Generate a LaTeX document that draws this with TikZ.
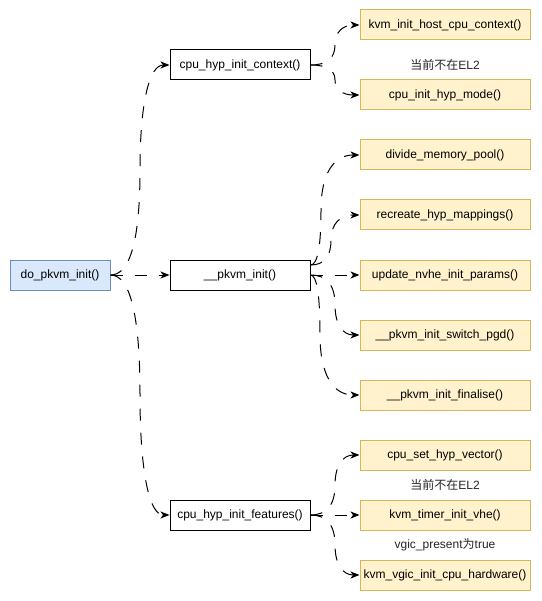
\documentclass[tikz,border=0pt]{standalone}
\usepackage{fontspec}
\setmainfont{Liberation Sans}
\newfontfamily\cjk{Noto Sans CJK SC}
\usetikzlibrary{arrows.meta,calc}
\definecolor{bluefill}{HTML}{DAE8FC}
\definecolor{blueline}{HTML}{6C8EBF}
\definecolor{yelfill}{HTML}{FFF2CC}
\definecolor{yelline}{HTML}{D6B656}
\tikzset{
  box/.style={draw=black, line width=1pt, minimum height=30pt, inner sep=0pt,
              font=\fontsize{12}{14}\selectfont, text=black},
  rootbox/.style={box, fill=bluefill, draw=blueline, minimum width=100pt},
  midbox/.style={box, fill=white, minimum width=140pt},
  leafbox/.style={box, fill=yelfill, draw=yelline, minimum width=170pt},
  note/.style={font=\fontsize{12}{14}\selectfont, inner sep=0pt, text=black!85},
  edge/.style={line width=1pt, dash pattern=on 12pt off 12pt,
               -{Stealth[length=9pt,width=7pt,inset=2.5pt]}},
}
\newcommand\qcurve[3]{%
  \draw[edge] let \p1=(#1), \p2=(#2), \n1={#3}, \n2={(\y1+\y2)/2} in
    (\p1) .. controls ({\x1+2/3*(\n1-\x1)},\y1) and (\n1,{\n2+2/3*(\y1-\n2)}) .. (\n1,\n2)
    .. controls (\n1,{\n2+2/3*(\y2-\n2)}) and ({\x2+2/3*(\n1-\x2)},\y2) .. (\p2);}
\begin{document}
\begin{tikzpicture}[x=1pt,y=1pt]
  \fill[white] (0,0) rectangle (541,-601);
  \useasboundingbox (0,0) rectangle (541,-601);

  % root
  \node[rootbox] (do) at (60,-275) {do\_pkvm\_init()};

  % middle level
  \node[midbox] (ctx)  at (240,-65)  {cpu\_hyp\_init\_context()};
  \node[midbox] (pkvm) at (240,-275) {\_\_pkvm\_init()};
  \node[midbox] (feat) at (240,-515) {cpu\_hyp\_init\_features()};

  % leaves
  \node[leafbox] (kihcc)  at (445,-25)  {kvm\_init\_host\_cpu\_context()};
  \node[leafbox] (cihm)   at (445,-95)  {cpu\_init\_hyp\_mode()};
  \node[leafbox] (dmp)    at (445,-155) {divide\_memory\_pool()};
  \node[leafbox] (rhm)    at (445,-215) {recreate\_hyp\_mappings()};
  \node[leafbox] (unip)   at (445,-275) {update\_nvhe\_init\_params()};
  \node[leafbox] (pisp)   at (445,-335) {\_\_pkvm\_init\_switch\_pgd()};
  \node[leafbox] (pif)    at (445,-395) {\_\_pkvm\_init\_finalise()};
  \node[leafbox] (cshv)   at (445,-455) {cpu\_set\_hyp\_vector()};
  \node[leafbox] (ktiv)   at (445,-515) {kvm\_timer\_init\_vhe()};
  \node[leafbox] (kvich)  at (445,-575) {kvm\_vgic\_init\_cpu\_hardware()};

  % notes
  \node[note] (n1) at (445,-65)  {{\cjk 当前不在}EL2};
  \node[note] (n2) at (445,-485) {{\cjk 当前不在}EL2};
  \node[note] (n3) at (445,-545) {vgic\_present{\cjk 为}true};

  % helper start point for the two upper edges of __pkvm_init
  \coordinate (pkvmup) at ($(pkvm.east)+(0,10)$);

  % edges from root
  \qcurve{do.east}{ctx.west}{140}
  \draw[edge] (do.east) -- (pkvm.west);
  \qcurve{do.east}{feat.west}{140}

  % edges from cpu_hyp_init_context
  \qcurve{ctx.east}{kihcc.west}{335}
  \qcurve{ctx.east}{cihm.west}{335}

  % edges from __pkvm_init
  \qcurve{pkvmup}{dmp.west}{321}
  \qcurve{pkvmup}{rhm.west}{331}
  \draw[edge] (pkvm.east) -- (unip.west);
  \qcurve{pkvm.east}{pisp.west}{335}
  \qcurve{pkvm.east}{pif.west}{320}

  % edges from cpu_hyp_init_features
  \qcurve{feat.east}{cshv.west}{335}
  \draw[edge] (feat.east) -- (ktiv.west);
  \qcurve{feat.east}{kvich.west}{335}
\end{tikzpicture}
\end{document}
